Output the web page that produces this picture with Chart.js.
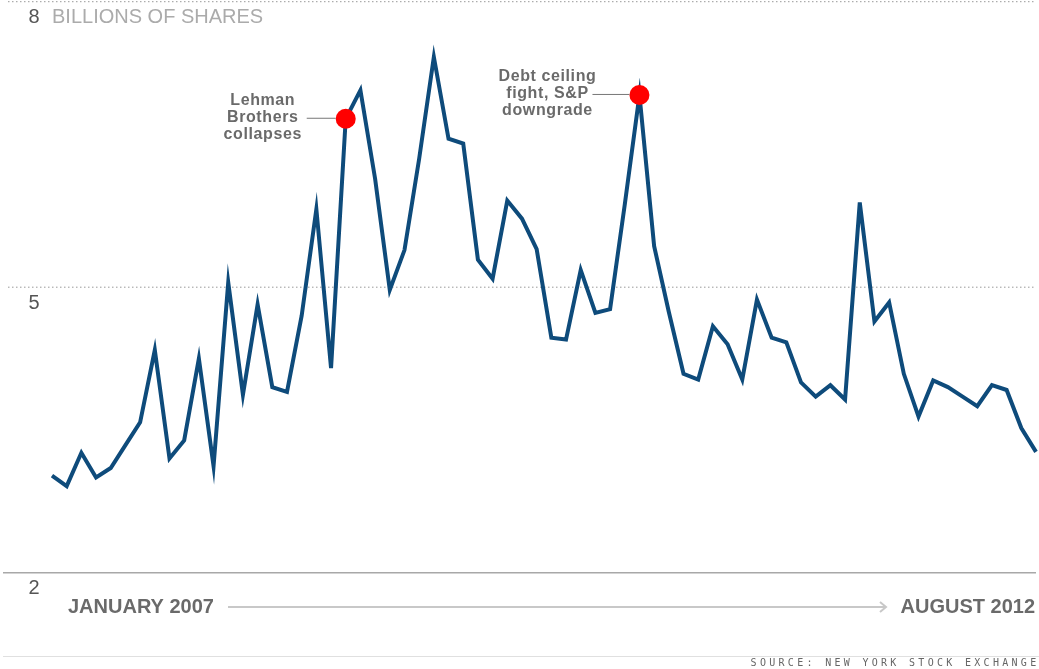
<!DOCTYPE html>
<html>
<head>
<meta charset="utf-8">
<script src="https://cdn.jsdelivr.net/npm/chart.js@4/dist/chart.umd.min.js"></script>
<style>
  body { margin: 0; background: #fff; }
  #wrap { width: 1039px; height: 669px; }
</style>
</head>
<body>
<div id="wrap"><canvas id="volChart" width="1039" height="669"></canvas></div>
<script>
// monthly NYSE volume, billions of shares
const months = [
  "Jan 2007", "Feb 2007", "Mar 2007", "Apr 2007", "May 2007", "Jun 2007", "Jul 2007", "Aug 2007", "Sep 2007", "Oct 2007", "Nov 2007", "Dec 2007",
  "Jan 2008", "Feb 2008", "Mar 2008", "Apr 2008", "May 2008", "Jun 2008", "Jul 2008", "Aug 2008", "Sep 2008", "Oct 2008", "Nov 2008", "Dec 2008",
  "Jan 2009", "Feb 2009", "Mar 2009", "Apr 2009", "May 2009", "Jun 2009", "Jul 2009", "Aug 2009", "Sep 2009", "Oct 2009", "Nov 2009", "Dec 2009",
  "Jan 2010", "Feb 2010", "Mar 2010", "Apr 2010", "May 2010", "Jun 2010", "Jul 2010", "Aug 2010", "Sep 2010", "Oct 2010", "Nov 2010", "Dec 2010",
  "Jan 2011", "Feb 2011", "Mar 2011", "Apr 2011", "May 2011", "Jun 2011", "Jul 2011", "Aug 2011", "Sep 2011", "Oct 2011", "Nov 2011", "Dec 2011",
  "Jan 2012", "Feb 2012", "Mar 2012", "Apr 2012", "May 2012", "Jun 2012", "Jul 2012", "Aug 2012"
];
const volume = [
  3.02, 2.91, 3.26, 3.00, 3.10, 3.34, 3.58, 4.34, 3.20, 3.39, 4.25, 3.12,
  5.05, 3.87, 4.82, 3.95, 3.90, 4.70, 5.82, 4.15, 6.77, 7.07, 6.14, 4.97,
  5.39, 6.35, 7.42, 6.56, 6.51, 5.29, 5.09, 5.91, 5.72, 5.40, 4.47, 4.45,
  5.18, 4.73, 4.77, 5.87, 7.02, 5.43, 4.74, 4.09, 4.03, 4.59, 4.40, 4.03,
  4.87, 4.47, 4.42, 4.00, 3.85, 3.97, 3.82, 5.89, 4.64, 4.84, 4.09, 3.64,
  4.02, 3.95, 3.85, 3.75, 3.97, 3.92, 3.52, 3.27
];
const yTicks = [8, 5, 2];
const yTitle = "BILLIONS OF SHARES";
const xStart = "JANUARY 2007";
const xEnd = "AUGUST 2012";
const source = "SOURCE: NEW YORK STOCK EXCHANGE";
const eventMonths = ["Sep 2008", "May 2010"];
const eventLabels = [
  ["Lehman", "Brothers", "collapses"],
  ["Debt ceiling", "fight, S&P", "downgrade"]
];

const eventData = months.map((m, i) => (eventMonths.includes(m) ? volume[i] : null));

// text offsets for each callout, relative to its dot
const calloutStyle = [
  { textDx: -83, lineFrom: -39, lineTo: -10 },
  { textDx: -92, lineFrom: -47, lineTo: -10 }
];

const FONT = "'Liberation Sans', Arial, sans-serif";

const decorPlugin = {
  id: "decor",
  beforeDatasetsDraw(chart) {
    const { ctx, chartArea, scales } = chart;
    ctx.save();
    yTicks.forEach((t) => {
      const y = scales.y.getPixelForValue(t);
      ctx.beginPath();
      if (t === 2) {
        ctx.setLineDash([]);
        ctx.strokeStyle = "#a8a8a8";
        ctx.lineWidth = 1.5;
        ctx.moveTo(3, y);
      } else {
        ctx.setLineDash([1.5, 2.5]);
        ctx.strokeStyle = "#999";
        ctx.lineWidth = 1;
        ctx.moveTo(8, y);
      }
      ctx.lineTo(chartArea.right, y);
      ctx.stroke();
    });
    ctx.restore();
  },
  afterDraw(chart) {
    const { ctx, chartArea, scales } = chart;
    ctx.save();

    // y tick labels sit just under their gridline
    ctx.textBaseline = "middle";
    ctx.font = "20px " + FONT;
    ctx.textAlign = "center";
    ctx.fillStyle = "#555";
    yTicks.forEach((t) => {
      ctx.fillText(String(t), 34, scales.y.getPixelForValue(t) + 16);
    });
    ctx.textAlign = "left";
    ctx.fillStyle = "#ababab";
    ctx.fillText(yTitle, chartArea.left, scales.y.getPixelForValue(yTicks[0]) + 16);

    // x range labels with arrow
    const ay = 607;
    ctx.font = "bold 20px " + FONT;
    ctx.fillStyle = "#6a6a6a";
    ctx.textAlign = "left";
    ctx.fillText(xStart, 68, ay);
    ctx.textAlign = "right";
    ctx.fillText(xEnd, 1035, ay);
    ctx.strokeStyle = "#c8c8c8";
    ctx.lineWidth = 2;
    ctx.beginPath();
    ctx.moveTo(228, ay);
    ctx.lineTo(886, ay);
    ctx.moveTo(880, ay - 5);
    ctx.lineTo(886, ay);
    ctx.lineTo(880, ay + 5);
    ctx.stroke();

    // footer
    ctx.strokeStyle = "#e0e0e0";
    ctx.lineWidth = 1;
    ctx.beginPath();
    ctx.moveTo(3, 656.5);
    ctx.lineTo(1039, 656.5);
    ctx.stroke();
    ctx.font = "10px 'DejaVu Sans Mono', monospace";
    ctx.letterSpacing = "3.3px";
    ctx.fillStyle = "#666";
    ctx.textAlign = "right";
    ctx.fillText(source, 1039.5, 663);
    ctx.letterSpacing = "0px";

    // callouts
    const meta = chart.getDatasetMeta(1);
    let k = 0;
    meta.data.forEach((pt, i) => {
      if (eventData[i] === null) return;
      const st = calloutStyle[k];
      const lines = eventLabels[k];
      ctx.strokeStyle = "#777";
      ctx.lineWidth = 1;
      ctx.beginPath();
      ctx.moveTo(pt.x + st.lineFrom, pt.y - 0.5);
      ctx.lineTo(pt.x + st.lineTo, pt.y - 0.5);
      ctx.stroke();
      ctx.font = "bold 16px " + FONT;
      ctx.letterSpacing = "0.6px";
      ctx.fillStyle = "#6a6a6a";
      ctx.textAlign = "center";
      lines.forEach((ln, j) => {
        ctx.fillText(ln, pt.x + st.textDx, pt.y - 1 + (j - 1) * 17);
      });
      ctx.letterSpacing = "0px";
      k++;
    });
    ctx.restore();
  }
};

const chart = new Chart(document.getElementById("volChart"), {
  type: "line",
  data: {
    labels: months,
    datasets: [
      {
        label: "Volume",
        data: volume,
        borderColor: "#0e4b7b",
        borderWidth: 4,
        borderJoinStyle: "miter",
        tension: 0,
        pointRadius: 0,
        fill: false,
        order: 2
      },
      {
        label: "Events",
        data: eventData,
        showLine: false,
        pointRadius: 10,
        pointBackgroundColor: "#ff0000",
        pointBorderWidth: 0,
        order: 1
      }
    ]
  },
  options: {
    responsive: false,
    animation: false,
    events: [],
    layout: { autoPadding: false, padding: { left: 52, right: 3, top: 1.7, bottom: 96.3 } },
    plugins: {
      legend: { display: false },
      tooltip: { enabled: false }
    },
    scales: {
      x: { type: "category", offset: false, display: false },
      y: { min: 2, max: 8, display: false }
    }
  },
  plugins: [decorPlugin]
});
</script>
</body>
</html>
